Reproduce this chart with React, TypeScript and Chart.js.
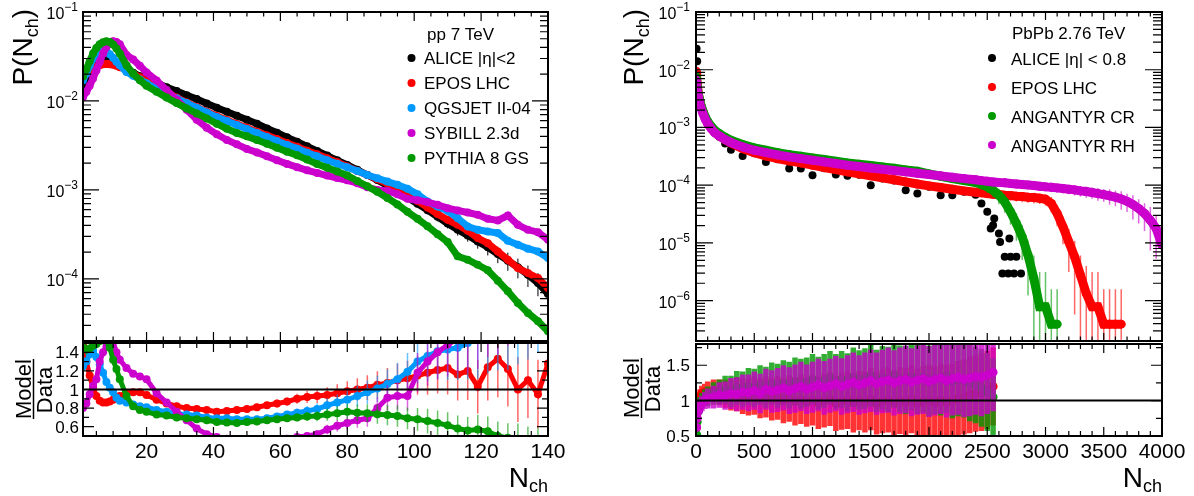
import React, { useEffect, useRef } from "react";
import { Chart, registerables } from "chart.js";

Chart.register(...registerables);

const FONT = '"Liberation Sans", Arial, Helvetica, sans-serif';
const W = 1194;
const H = 496;

const C_BLACK = "#000000";
const C_RED = "#ff0000";
const C_BLUE = "#0099ff";
const C_MAGENTA = "#cc00cc";
const C_GREEN = "#009900";

/* ================= pp 7 TeV (left) ================= */
const ppN = [1,2,3,4,5,6,7,8,9,10,11,12,14,16,18,20,23,26,29,32,35,38,41,44,47,50,53,56,59,62,65,68,71,74,77,80,83,86,89,92,95,98,101,104,107,110,113,116,119,122,125,128,131,134,137,140];

const ppAlice = [1.36e-2,1.61e-2,1.95e-2,2.36e-2,2.75e-2,3.00e-2,3.10e-2,3.08e-2,2.97e-2,2.82e-2,2.68e-2,2.52e-2,
  2.28e-2,2.07e-2,1.90e-2,1.76e-2,
  1.59e-2,1.43e-2,1.29e-2,1.16e-2,1.05e-2,9.38e-3,8.39e-3,7.56e-3,6.82e-3,6.15e-3,5.54e-3,4.91e-3,4.40e-3,3.90e-3,3.48e-3,3.09e-3,2.74e-3,2.43e-3,2.15e-3,1.91e-3,1.68e-3,1.47e-3,1.29e-3,1.12e-3,9.58e-4,8.20e-4,6.97e-4,5.92e-4,4.98e-4,4.19e-4,3.56e-4,3.08e-4,2.63e-4,2.26e-4,1.90e-4,1.60e-4,1.35e-4,1.11e-4,8.98e-5,6.76e-5];

const ppAliceErr = [0.01,0.01,0.01,0.01,0.01,0.01,0.01,0.01,0.01,0.01,0.01,0.01,0.01,0.01,0.01,0.01,
  0.01,0.01,0.01,0.01,0.01,0.01,0.01,0.01,0.01,0.01,0.01,0.01,0.01,0.01,0.01,0.01,0.01,0.01,0.01,0.01,
  0.03,0.04,0.05,0.06,0.07,0.08,0.09,0.10,0.11,0.12,0.14,0.15,0.17,0.19,0.21,0.23,0.25,0.27,0.29,0.31];

const ppEpos = [2.02e-2,2.12e-2,2.24e-2,2.36e-2,2.44e-2,2.52e-2,2.59e-2,2.61e-2,2.59e-2,2.55e-2,2.48e-2,2.40e-2,
  2.22e-2,2.02e-2,1.85e-2,1.67e-2,
  1.44e-2,1.25e-2,1.09e-2,9.62e-3,8.53e-3,7.56e-3,6.76e-3,6.10e-3,5.50e-3,5.00e-3,4.51e-3,4.10e-3,3.73e-3,3.37e-3,3.06e-3,2.76e-3,2.51e-3,2.27e-3,2.04e-3,1.83e-3,1.63e-3,1.47e-3,1.32e-3,1.18e-3,1.04e-3,8.94e-4,7.52e-4,6.34e-4,5.34e-4,4.61e-4,4.05e-4,3.47e-4,2.87e-4,2.52e-4,2.03e-4,1.64e-4,1.32e-4,1.16e-4,1.02e-4,7.89e-5];

const ppQgsjet = [1.71e-2,2.03e-2,2.48e-2,3.00e-2,3.41e-2,3.65e-2,3.75e-2,3.62e-2,3.35e-2,3.05e-2,2.75e-2,2.52e-2,
  2.12e-2,1.92e-2,1.74e-2,1.58e-2,
  1.38e-2,1.21e-2,1.07e-2,9.46e-3,8.39e-3,7.43e-3,6.59e-3,5.94e-3,5.36e-3,4.83e-3,4.36e-3,3.93e-3,3.54e-3,3.20e-3,2.91e-3,2.62e-3,2.39e-3,2.15e-3,1.97e-3,1.80e-3,1.63e-3,1.47e-3,1.35e-3,1.24e-3,1.14e-3,1.03e-3,8.94e-4,7.40e-4,6.50e-4,5.81e-4,4.81e-4,3.88e-4,3.56e-4,3.41e-4,3.27e-4,2.68e-4,2.42e-4,2.18e-4,2.03e-4,1.71e-4];

const ppSibyll = [1.10e-2,1.27e-2,1.48e-2,1.79e-2,2.20e-2,2.75e-2,3.41e-2,4.05e-2,4.53e-2,4.69e-2,4.61e-2,4.34e-2,
  3.29e-2,2.92e-2,2.48e-2,2.09e-2,
  1.70e-2,1.33e-2,1.03e-2,7.96e-3,6.15e-3,5.00e-3,4.21e-3,3.64e-3,3.25e-3,2.88e-3,2.64e-3,2.39e-3,2.15e-3,1.96e-3,1.80e-3,1.66e-3,1.55e-3,1.45e-3,1.36e-3,1.28e-3,1.19e-3,1.07e-3,1.00e-3,9.74e-4,8.94e-4,7.93e-4,7.66e-4,7.27e-4,6.79e-4,6.23e-4,5.86e-4,5.57e-4,5.24e-4,4.73e-4,4.53e-4,5.15e-4,4.05e-4,3.56e-4,3.35e-4,2.75e-4];

const ppPythia = [1.88e-2,2.28e-2,2.80e-2,3.41e-2,3.95e-2,4.34e-2,4.57e-2,4.69e-2,4.61e-2,4.30e-2,3.88e-2,3.41e-2,
  2.52e-2,2.03e-2,1.71e-2,1.48e-2,
  1.27e-2,1.09e-2,9.46e-3,8.24e-3,7.24e-3,6.36e-3,5.54e-3,4.87e-3,4.36e-3,4.00e-3,3.64e-3,3.31e-3,2.98e-3,2.69e-3,2.45e-3,2.19e-3,1.96e-3,1.77e-3,1.61e-3,1.45e-3,1.26e-3,1.10e-3,9.50e-4,8.13e-4,6.85e-4,5.67e-4,4.73e-4,3.91e-4,3.18e-4,2.59e-4,1.79e-4,1.64e-4,1.44e-4,1.25e-4,9.54e-5,7.24e-5,5.36e-5,4.14e-5,3.34e-5,2.58e-5];

// ratio Model/Data (left lower panel)
const ppRatioEpos = [1.49,1.30,1.15,1.02,0.93,0.88,0.86,0.86,0.87,0.89,0.91,0.93,0.96,0.97,0.97,0.94,
  0.89,0.85,0.82,0.80,0.79,0.78,0.76,0.77,0.78,0.79,0.81,0.83,0.85,0.87,0.90,0.92,0.93,0.94,0.96,0.98,
  1.00,1.02,1.05,1.07,1.10,1.12,1.15,1.18,1.21,1.23,1.16,1.20,1.03,1.24,1.33,1.22,1.00,1.10,0.95,1.28];
const ppRatioQgsjet = [1.25,1.30,1.38,1.42,1.35,1.27,1.18,1.08,1.02,0.97,0.91,0.88,0.86,0.84,0.82,0.81,
  0.78,0.76,0.74,0.73,0.72,0.70,0.69,0.69,0.68,0.68,0.68,0.69,0.71,0.73,0.75,0.77,0.79,0.83,0.86,0.89,
  0.93,0.97,1.01,1.06,1.11,1.19,1.30,1.36,1.41,1.43,1.45,1.50,1.55,1.65,1.75,1.80,1.95,2.10,2.30,2.45];
const ppRatioSibyll = [0.80,0.85,0.95,1.04,1.11,1.30,1.40,1.46,1.49,1.51,1.40,1.32,1.23,1.17,1.14,1.11,
  0.96,0.86,0.76,0.67,0.58,0.52,0.49,0.47,0.45,0.44,0.44,0.45,0.46,0.47,0.49,0.50,0.52,0.57,0.61,0.64,
  0.67,0.69,0.80,0.91,0.93,0.93,1.18,1.30,1.40,1.48,1.55,1.60,1.70,1.90,2.00,2.20,2.40,2.70,3.00,3.50];
const ppRatioPythia = [1.45,1.43,1.44,1.47,1.49,1.52,1.53,1.53,1.45,1.32,1.22,1.11,0.93,0.82,0.78,0.76,
  0.73,0.72,0.70,0.69,0.68,0.67,0.65,0.645,0.64,0.65,0.655,0.67,0.68,0.69,0.70,0.71,0.715,0.73,0.745,0.76,
  0.75,0.745,0.735,0.725,0.715,0.69,0.68,0.66,0.64,0.615,0.58,0.56,0.57,0.55,0.50,0.48,0.47,0.44,0.42,0.40];
const ppRatioErr = [0.04,0.04,0.03,0.02,0.02,0.02,0.02,0.02,0.02,0.02,0.02,0.02,0.02,0.02,0.02,0.02,
  0.02,0.02,0.02,0.02,0.02,0.02,0.02,0.02,0.02,
  0.03,0.03,0.04,0.05,0.05,0.06,0.07,0.08,0.09,0.10,0.11,0.12,0.13,0.14,0.15,0.16,0.17,0.18,0.20,0.21,0.23,0.24,0.26,0.28,0.29,0.31,0.33,0.35,0.37,0.39,0.41];

const ppXTicks = [20, 40, 60, 80, 100, 120, 140];
const ppYDecades = [-1, -2, -3, -4];
const ppRatioTicks = [0.6, 0.8, 1, 1.2, 1.4];
const ppLegend = ["ALICE |\u03b7|<2", "EPOS LHC", "QGSJET II-04", "SYBILL 2.3d", "PYTHIA 8 GS"];

/* ================= PbPb 2.76 TeV (right) ================= */
const pbN = [2,5,10,20,30,40,60,80,100,130,160,200,250,300,
  400,500,600,700,800,900,1000,1100,1200,1300,1400,1500,1600,1700,1800,1900,2000,2100,2200,2300,2400,
  2450,2500,2550,2600,2650,2700,2750,2800,2850,2900,2950,3000,3050,3100,3150,3200,3250,3300,3350,3400,3450,3500,3550,3600,3650,3700,3750,3800,3850,3900,3950,4000];

const pbAlice = [null,2.32e-2,1.40e-2,3.70e-3,2.95e-3,2.40e-3,1.80e-3,1.42e-3,1.17e-3,9.50e-4,8.10e-4,6.90e-4,5.26e-4,4.10e-4,
  3.21e-4,3.56e-4,2.53e-4,2.80e-4,1.94e-4,1.94e-4,1.49e-4,1.96e-4,1.53e-4,1.45e-4,1.52e-4,9.98e-5,1.30e-4,1.20e-4,8.18e-5,7.16e-5,9.44e-5,6.70e-5,6.70e-5,7.73e-5,6.80e-5,
  4.81e-5,3.45e-5,2.03e-5,1.46e-5,5.74e-6,5.74e-6,5.74e-6,null,null,null,null,null,null,null,null,null,null,null,null,null,null,null,null,null,null,null,null,null,null,null,null,null];
const pbAliceExtraN = [2530, 2560, 2610, 2690, 2630, 2680, 2730, 2790];
const pbAliceExtra = [1.78e-5, 2.64e-5, 1.04e-5, 1.19e-5, 2.95e-6, 2.95e-6, 2.95e-6, 2.95e-6];

const pbEpos = [9.40e-3,7.49e-3,5.74e-3,3.86e-3,3.08e-3,2.49e-3,1.86e-3,1.46e-3,1.21e-3,9.81e-4,8.37e-4,7.14e-4,6.16e-4,5.40e-4,
  4.31e-4,3.67e-4,3.21e-4,2.89e-4,2.63e-4,2.43e-4,2.22e-4,2.02e-4,1.87e-4,1.70e-4,1.57e-4,1.45e-4,1.34e-4,1.24e-4,1.14e-4,1.05e-4,9.73e-5,9.10e-5,8.52e-5,7.97e-5,7.56e-5,
  7.36e-5,7.16e-5,6.98e-5,6.88e-5,6.70e-5,6.62e-5,6.44e-5,6.36e-5,6.19e-5,6.11e-5,5.95e-5,5.71e-5,4.81e-5,3.23e-5,1.90e-5,1.04e-5,5.74e-6,2.76e-6,1.33e-6,7.82e-7,7.82e-7,3.92e-7,3.92e-7,3.92e-7,3.92e-7,null,null,null,null,null,null,null];
const pbCR = [7.49e-3,6.56e-3,5.03e-3,3.71e-3,3.08e-3,2.52e-3,1.91e-3,1.52e-3,1.28e-3,1.05e-3,8.94e-4,7.83e-4,6.77e-4,6.00e-4,
  5.05e-4,4.42e-4,4.03e-4,3.67e-4,3.39e-4,3.17e-4,2.97e-4,2.78e-4,2.60e-4,2.43e-4,2.31e-4,2.19e-4,2.07e-4,1.97e-4,1.84e-4,1.74e-4,1.57e-4,1.43e-4,1.30e-4,1.20e-4,1.11e-4,
  1.03e-4,9.35e-5,8.18e-5,6.70e-5,5.14e-5,3.45e-5,2.17e-5,1.27e-5,6.13e-6,2.42e-6,7.82e-7,7.82e-7,3.92e-7,3.92e-7,null,null,null,null,null,null,null,null,null,null,null,null,null,null,null,null,null,null];
const pbRH = [6.56e-3,5.74e-3,4.41e-3,3.38e-3,2.77e-3,2.27e-3,1.74e-3,1.39e-3,1.17e-3,9.56e-4,8.15e-4,7.14e-4,6.16e-4,5.47e-4,
  4.60e-4,4.03e-4,3.67e-4,3.35e-4,3.09e-4,2.89e-4,2.71e-4,2.53e-4,2.37e-4,2.22e-4,2.10e-4,1.99e-4,1.89e-4,1.79e-4,1.70e-4,1.61e-4,1.53e-4,1.45e-4,1.37e-4,1.30e-4,1.24e-4,
  1.20e-4,1.17e-4,1.14e-4,1.11e-4,1.10e-4,1.07e-4,1.05e-4,1.03e-4,1.01e-4,9.86e-5,9.60e-5,9.35e-5,9.22e-5,8.98e-5,8.74e-5,8.52e-5,8.29e-5,7.97e-5,7.76e-5,7.46e-5,7.16e-5,6.88e-5,6.53e-5,6.19e-5,5.79e-5,5.28e-5,4.62e-5,3.94e-5,3.23e-5,2.47e-5,1.78e-5,9.14e-6];

// relative errors of the model histograms (right upper panel)
const pbErrEpos = [0.05,0.05,0.05,0.05,0.05,0.05,0.05,0.05,0.05,0.05,0.05,0.05,0.05,0.05,
  0.06,0.06,0.07,0.07,0.08,0.08,0.09,0.09,0.10,0.10,0.11,0.11,0.12,0.12,0.13,0.13,0.14,0.14,0.15,0.15,0.16,
  0.16,0.17,0.17,0.18,0.18,0.19,0.19,0.20,0.20,0.21,0.21,0.22,0.3,0.4,0.5,0.7,0.9,1.2,2,3,3,3,3,3,3,0,0,0,0,0,0,0];
const pbErrCR = [0.05,0.05,0.05,0.05,0.05,0.05,0.05,0.05,0.05,0.05,0.05,0.05,0.05,0.05,
  0.06,0.06,0.07,0.07,0.08,0.08,0.09,0.09,0.10,0.10,0.11,0.11,0.12,0.12,0.13,0.13,0.14,0.14,0.15,0.15,0.16,
  0.2,0.22,0.25,0.3,0.35,0.4,0.5,0.6,0.8,1.5,3,3,3,3,0,0,0,0,0,0,0,0,0,0,0,0,0,0,0,0,0,0];
const pbErrRH = [0.03,0.03,0.03,0.03,0.03,0.03,0.03,0.03,0.03,0.03,0.03,0.03,0.03,0.03,
  0.06,0.06,0.06,0.07,0.07,0.07,0.08,0.08,0.08,0.09,0.09,0.09,0.10,0.10,0.10,0.11,0.11,0.11,0.12,0.12,0.12,
  0.13,0.13,0.13,0.14,0.14,0.14,0.15,0.15,0.15,0.16,0.16,0.16,0.17,0.17,0.18,0.18,0.2,0.2,0.22,0.22,0.25,0.25,0.3,0.3,0.35,0.35,0.45,0.45,0.5,0.7,0.7,0.7];

// ratio Model/Data (right lower panel)
const pbRatioN = [5,10,20,35,50,75,100,
  150,200,250,300,350,400,450,500,550,600,650,700,750,800,850,900,950,1000,1050,1100,1150,1200,1250,1300,1350,1400,1450,1500,
  1550,1600,1650,1700,1750,1800,1850,1900,1950,2000,2050,2100,2150,2200,2250,2300,2350,2400,2450,2500,2550];
const pbRatioEpos = [0.62,0.90,1.00,1.06,1.10,1.12,1.13,
  1.14,1.12,1.10,1.08,1.09,1.06,1.05,1.07,1.03,1.05,1.02,1.04,1.00,1.03,0.99,1.02,0.98,1.01,0.97,1.00,
  1.02,0.96,0.99,1.01,0.97,1.00,0.98,1.02,0.96,0.99,1.01,0.97,1.00,0.98,1.02,0.96,0.99,1.00,0.97,1.01,
  0.98,1.00,1.03,1.05,1.08,1.10,1.12,1.15,1.20];
const pbRatioCR = [0.52,0.70,0.85,0.95,1.00,1.04,1.06,
  1.10,1.12,1.15,1.13,1.18,1.16,1.20,1.18,1.22,1.19,1.24,1.21,1.25,1.22,1.27,1.24,1.26,1.30,1.25,1.28,
  1.32,1.27,1.30,1.26,1.33,1.29,1.31,1.35,1.28,1.32,1.30,1.36,1.31,1.29,1.34,1.30,1.33,1.28,1.32,1.30,
  1.35,1.27,1.31,1.29,1.25,1.22,1.18,1.12,1.05];
const pbRatioRH = [0.62,0.75,0.85,0.92,0.96,1.00,1.03,
  1.05,1.08,1.07,1.10,1.09,1.12,1.11,1.14,1.10,1.16,1.13,1.15,1.18,1.14,1.17,1.20,1.16,1.19,1.22,1.18,
  1.21,1.24,1.20,1.23,1.26,1.22,1.25,1.28,1.24,1.27,1.29,1.25,1.28,1.30,1.26,1.29,1.31,1.27,1.30,1.32,
  1.28,1.31,1.33,1.30,1.32,1.34,1.33,1.36,1.40];
const pbRatioErr = [0.05,0.06,0.08,0.10,0.11,0.12,0.14,
  0.16,0.18,0.20,0.22,0.24,0.25,0.26,0.27,0.28,0.29,0.30,0.31,0.32,0.33,0.34,0.35,0.35,0.36,0.37,0.38,
  0.38,0.39,0.40,0.41,0.42,0.42,0.43,0.44,0.44,0.45,0.46,0.46,0.47,0.48,0.48,0.49,0.50,0.50,0.51,0.51,
  0.52,0.52,0.53,0.53,0.54,0.54,0.55,0.55,0.55];

const pbXTicks = [0, 500, 1000, 1500, 2000, 2500, 3000, 3500, 4000];
const pbYDecades = [-1, -2, -3, -4, -5, -6];
const pbRatioTicks = [0.5, 1, 1.5];
const pbLegend = ["ALICE |\u03b7| < 0.8", "EPOS LHC", "ANGANTYR CR", "ANGANTYR RH"];

/* ================= helpers ================= */
type Seg = { t: string; size: number; dy?: number };
type Rich = { x: number; y: number; rotate?: boolean; align?: "start" | "end" | "center"; segs: Seg[] };

function hexA(hex: string, a: number) {
  const n = parseInt(hex.slice(1), 16);
  return `rgba(${(n >> 16) & 255},${(n >> 8) & 255},${n & 255},${a})`;
}

function drawRich(ctx: CanvasRenderingContext2D, r: Rich) {
  ctx.save();
  ctx.translate(r.x, r.y);
  if (r.rotate) ctx.rotate(-Math.PI / 2);
  let total = 0;
  for (const s of r.segs) {
    ctx.font = `${s.size}px ${FONT}`;
    total += ctx.measureText(s.t).width;
  }
  let x = r.align === "end" ? -total : r.align === "center" ? -total / 2 : 0;
  ctx.fillStyle = "#000";
  ctx.textAlign = "left";
  ctx.textBaseline = "alphabetic";
  for (const s of r.segs) {
    ctx.font = `${s.size}px ${FONT}`;
    ctx.fillText(s.t, x, s.dy || 0);
    x += ctx.measureText(s.t).width;
  }
  ctx.restore();
}

function stepTicks(from: number, to: number, step: number, skip: number[] = []) {
  const out: number[] = [];
  for (let v = from; v <= to + 1e-9; v += step) {
    const r = Math.round(v * 1000) / 1000;
    if (!skip.some((s) => Math.abs(s - r) < 1e-9)) out.push(r);
  }
  return out;
}

function logMinor(min: number, max: number) {
  const out: number[] = [];
  for (let d = Math.floor(Math.log10(min)); d <= Math.ceil(Math.log10(max)); d++) {
    for (let k = 2; k <= 9; k++) {
      const v = k * Math.pow(10, d);
      if (v >= min && v <= max) out.push(v);
    }
  }
  return out;
}

function decadeLabels(decs: number[]) {
  return decs.map((d) => ({
    v: Math.pow(10, d),
    segs: [
      { t: "10", size: 16 },
      { t: "\u2212" + String(-d), size: 12, dy: -8 },
    ],
  }));
}

function plainLabels(vals: number[], size: number) {
  return vals.map((v) => ({ v, segs: [{ t: String(v), size }] }));
}

function series(
  label: string,
  xs: number[],
  ys: (number | null)[],
  color: string,
  o: { line: number; r: number; order: number; lo?: (number | null)[]; hi?: (number | null)[]; errColor?: string; errWidth?: number }
) {
  return {
    label,
    data: xs.map((x, i) => ({ x, y: ys[i] })),
    showLine: o.line > 0,
    borderColor: color,
    borderWidth: o.line,
    backgroundColor: color,
    pointBackgroundColor: color,
    pointBorderColor: color,
    pointRadius: o.r,
    pointHoverRadius: o.r,
    pointBorderWidth: 0,
    order: o.order,
    clip: 0,
    spanGaps: false,
    errLo: o.lo,
    errHi: o.hi,
    errColor: o.errColor,
    errWidth: o.errWidth || 1,
  };
}

const relLo = (ys: (number | null)[], e: number[]) => ys.map((v, i) => (v == null ? null : v * (1 - e[i])));
const relHi = (ys: (number | null)[], e: number[]) => ys.map((v, i) => (v == null ? null : v * (1 + e[i])));
const absLo = (ys: number[], e: number[]) => ys.map((v, i) => v - e[i]);
const absHi = (ys: number[], e: number[]) => ys.map((v, i) => v + e[i]);

/* ================= plugin: ROOT-like frame, ticks, labels, error bars ================= */
const rootPlugin: any = {
  id: "rootDeco",
  beforeDatasetDraw(chart: any, args: any) {
    const d: any = chart.data.datasets[args.index];
    if (!d.errLo || !d.errHi) return;
    const { ctx, chartArea: a } = chart;
    const xs = chart.scales.x;
    const ys = chart.scales.y;
    const isLog = ys.type === "logarithmic";
    ctx.save();
    ctx.beginPath();
    ctx.rect(a.left, a.top, a.right - a.left, a.bottom - a.top);
    ctx.clip();
    ctx.strokeStyle = d.errColor;
    ctx.lineWidth = d.errWidth;
    ctx.beginPath();
    d.data.forEach((p: any, i: number) => {
      const lo = d.errLo[i];
      const hi = d.errHi[i];
      if (p.y == null || lo == null || hi == null || hi === lo) return;
      const px = xs.getPixelForValue(p.x);
      const y1 = ys.getPixelForValue(hi);
      const y0 = isLog && lo <= 0 ? a.bottom + 10 : ys.getPixelForValue(lo);
      ctx.moveTo(px, y0);
      ctx.lineTo(px, y1);
    });
    ctx.stroke();
    ctx.restore();
  },
  afterDatasetsDraw(chart: any) {
    const deco = chart.options.plugins.rootDeco;
    if (deco.refLine == null) return;
    const { ctx, chartArea: a } = chart;
    const py = chart.scales.y.getPixelForValue(deco.refLine);
    ctx.save();
    ctx.strokeStyle = "#000";
    ctx.lineWidth = 2;
    ctx.beginPath();
    ctx.moveTo(a.left, py);
    ctx.lineTo(a.right, py);
    ctx.stroke();
    ctx.restore();
  },
  afterDraw(chart: any) {
    const deco = chart.options.plugins.rootDeco;
    const { ctx, chartArea: a } = chart;
    const xs = chart.scales.x;
    const ys = chart.scales.y;
    ctx.save();
    ctx.strokeStyle = "#000";
    ctx.lineWidth = 1.2;
    ctx.beginPath();
    const xt = (vals: number[], len: number) => {
      for (const v of vals) {
        const px = xs.getPixelForValue(v);
        if (px < a.left - 0.5 || px > a.right + 0.5) continue;
        ctx.moveTo(px, a.bottom);
        ctx.lineTo(px, a.bottom - len);
        ctx.moveTo(px, a.top);
        ctx.lineTo(px, a.top + len);
      }
    };
    const yt = (vals: number[], len: number) => {
      for (const v of vals) {
        const py = ys.getPixelForValue(v);
        if (py < a.top - 0.5 || py > a.bottom + 0.5) continue;
        ctx.moveTo(a.left, py);
        ctx.lineTo(a.left + len, py);
        ctx.moveTo(a.right, py);
        ctx.lineTo(a.right - len, py);
      }
    };
    xt(deco.xMajor, deco.xMajorLen);
    xt(deco.xMinor, deco.xMinorLen);
    yt(deco.yMajor, deco.yMajorLen);
    yt(deco.yMinor, deco.yMinorLen);
    ctx.stroke();

    ctx.lineWidth = 2;
    ctx.strokeRect(a.left, a.top, a.right - a.left, a.bottom - a.top);

    if (deco.xLabels) {
      for (const l of deco.xLabels) {
        drawRich(ctx, { x: xs.getPixelForValue(l.v), y: deco.xLabelY, align: "center", segs: l.segs });
      }
    }
    if (deco.yLabels) {
      for (const l of deco.yLabels) {
        drawRich(ctx, { x: deco.yLabelX, y: ys.getPixelForValue(l.v) + deco.yLabelDy, align: "end", segs: l.segs });
      }
    }
    for (const t of deco.texts || []) drawRich(ctx, t);
    for (const b of deco.bars || []) {
      ctx.lineWidth = 1.5;
      ctx.beginPath();
      ctx.moveTo(b[0], b[1]);
      ctx.lineTo(b[2], b[3]);
      ctx.stroke();
    }
    if (deco.legend) {
      const L = deco.legend;
      L.items.forEach((it: any) => {
        ctx.fillStyle = it.color;
        ctx.beginPath();
        ctx.arc(L.markerX, it.y + L.markerDy, 4, 0, Math.PI * 2);
        ctx.fill();
        drawRich(ctx, { x: L.textX, y: it.y, align: "start", segs: [{ t: it.text, size: L.size }] });
      });
    }
    ctx.restore();
  },
};

function makeConfig(p: {
  area: [number, number, number, number];
  x: [number, number];
  y: [number, number];
  logY: boolean;
  datasets: any[];
  deco: any;
}) {
  const [x0, y0, x1, y1] = p.area;
  return {
    type: "scatter",
    data: { datasets: p.datasets },
    options: {
      responsive: false,
      maintainAspectRatio: false,
      animation: false,
      devicePixelRatio: 1,
      events: [],
      layout: { padding: { left: x0, top: y0, right: W - x1, bottom: H - y1 } },
      scales: {
        x: { type: "linear", min: p.x[0], max: p.x[1], display: false },
        y: { type: p.logY ? "logarithmic" : "linear", min: p.y[0], max: p.y[1], display: false },
      },
      plugins: {
        legend: { display: false },
        tooltip: { enabled: false },
        rootDeco: p.deco,
      },
    },
    plugins: [rootPlugin],
  };
}

/* ================= panel configs ================= */
const LEFT = { x0: 83, x1: 548 };
const RIGHT = { x0: 696, x1: 1162 };

function yTitle(x: number): Rich {
  return { x, y: 9, rotate: true, align: "end", segs: [{ t: "P(N", size: 28 }, { t: "ch", size: 18, dy: 6 }, { t: ")", size: 28 }] };
}
function xTitle(x: number): Rich {
  return { x, y: 487, align: "end", segs: [{ t: "N", size: 28 }, { t: "ch", size: 18, dy: 5 }] };
}

function leftMain() {
  const lines = { line: 7, r: 4 };
  const datasets = [
    series(ppLegend[0], ppN, ppAlice, C_BLACK, { ...lines, order: 5, lo: relLo(ppAlice, ppAliceErr), hi: relHi(ppAlice, ppAliceErr), errColor: "#000", errWidth: 1 }),
    series(ppLegend[1], ppN, ppEpos, C_RED, { ...lines, order: 4 }),
    series(ppLegend[2], ppN, ppQgsjet, C_BLUE, { ...lines, order: 3 }),
    series(ppLegend[3], ppN, ppSibyll, C_MAGENTA, { ...lines, order: 2 }),
    series(ppLegend[4], ppN, ppPythia, C_GREEN, { ...lines, order: 1 }),
  ];
  const colors = [C_BLACK, C_RED, C_BLUE, C_MAGENTA, C_GREEN];
  return makeConfig({
    area: [LEFT.x0, 12, LEFT.x1, 341],
    x: [1, 140],
    y: [2e-5, 0.1],
    logY: true,
    datasets,
    deco: {
      xMajor: ppXTicks, xMinor: stepTicks(5, 140, 5, ppXTicks), xMajorLen: 9, xMinorLen: 4.5,
      yMajor: ppYDecades.map((d) => Math.pow(10, d)), yMinor: logMinor(2e-5, 0.1), yMajorLen: 16, yMinorLen: 8,
      yLabels: decadeLabels(ppYDecades), yLabelX: 78, yLabelDy: 7,
      texts: [yTitle(32), { x: 427, y: 40, align: "start", segs: [{ t: "pp 7 TeV", size: 17 }] }],
      legend: {
        markerX: 411.5, markerDy: -6, textX: 424, size: 17,
        items: ppLegend.map((t, i) => ({ text: t, color: colors[i], y: 64 + 25 * i })),
      },
    },
  });
}

function leftRatio() {
  const o = { line: 5, r: 4 };
  const mk = (label: string, ys: number[], color: string, order: number) =>
    series(label, ppN, ys, color, { ...o, order, lo: relLo(ys, ppRatioErr), hi: relHi(ys, ppRatioErr), errColor: hexA(color, 0.6), errWidth: 1.5 });
  const datasets = [
    mk(ppLegend[1], ppRatioEpos, C_RED, 4),
    mk(ppLegend[2], ppRatioQgsjet, C_BLUE, 3),
    mk(ppLegend[3], ppRatioSibyll, C_MAGENTA, 2),
    mk(ppLegend[4], ppRatioPythia, C_GREEN, 1),
  ];
  return makeConfig({
    area: [LEFT.x0, 343, LEFT.x1, 436],
    x: [1, 140],
    y: [0.5, 1.5],
    logY: false,
    datasets,
    deco: {
      xMajor: ppXTicks, xMinor: stepTicks(5, 140, 5, ppXTicks), xMajorLen: 9, xMinorLen: 5,
      yMajor: ppRatioTicks, yMinor: [0.5, 0.7, 0.9, 1.1, 1.3, 1.5], yMajorLen: 11, yMinorLen: 6,
      xLabels: plainLabels(ppXTicks, 21), xLabelY: 458,
      yLabels: plainLabels(ppRatioTicks, 17), yLabelX: 79, yLabelDy: 6,
      refLine: 1,
      texts: [
        { x: 31, y: 389, rotate: true, align: "center", segs: [{ t: "Model", size: 22 }] },
        { x: 52, y: 390, rotate: true, align: "center", segs: [{ t: "Data", size: 22 }] },
        xTitle(LEFT.x1),
      ],
      bars: [[33.5, 359, 33.5, 419]],
    },
  });
}

function rightMain() {
  const datasets = [
    series(pbLegend[0], pbN, pbAlice, C_BLACK, { line: 0, r: 4, order: 6 }),
    series(pbLegend[0] + " tail", pbAliceExtraN, pbAliceExtra, C_BLACK, { line: 0, r: 4, order: 5 }),
    series(pbLegend[1], pbN, pbEpos, C_RED, { line: 9, r: 4.5, order: 3, lo: relLo(pbEpos, pbErrEpos), hi: relHi(pbEpos, pbErrEpos), errColor: hexA(C_RED, 0.6), errWidth: 1.5 }),
    series(pbLegend[2], pbN, pbCR, C_GREEN, { line: 9, r: 4.5, order: 2, lo: relLo(pbCR, pbErrCR), hi: relHi(pbCR, pbErrCR), errColor: hexA(C_GREEN, 0.6), errWidth: 1.5 }),
    series(pbLegend[3], pbN, pbRH, C_MAGENTA, { line: 9, r: 4.5, order: 1, lo: relLo(pbRH, pbErrRH), hi: relHi(pbRH, pbErrRH), errColor: hexA(C_MAGENTA, 0.6), errWidth: 1.5 }),
  ];
  const colors = [C_BLACK, C_RED, C_GREEN, C_MAGENTA];
  return makeConfig({
    area: [RIGHT.x0, 12, RIGHT.x1, 341],
    x: [0, 4000],
    y: [2e-7, 0.1],
    logY: true,
    datasets,
    deco: {
      xMajor: pbXTicks, xMinor: stepTicks(100, 4000, 100, pbXTicks), xMajorLen: 8, xMinorLen: 4.5,
      yMajor: pbYDecades.map((d) => Math.pow(10, d)), yMinor: logMinor(2e-7, 0.1), yMajorLen: 17, yMinorLen: 9,
      yLabels: decadeLabels(pbYDecades), yLabelX: 690, yLabelDy: 7,
      texts: [yTitle(643), { x: 1012, y: 39, align: "start", segs: [{ t: "PbPb 2.76 TeV", size: 17 }] }],
      legend: {
        markerX: 992, markerDy: -7, textX: 1011, size: 17,
        items: pbLegend.map((t, i) => ({ text: t, color: colors[i], y: 65 + 29 * i })),
      },
    },
  });
}

function rightRatio() {
  const mk = (label: string, ys: number[], color: string, order: number) =>
    series(label, pbRatioN, ys, color, { line: 0, r: 4.5, order, lo: absLo(ys, pbRatioErr), hi: absHi(ys, pbRatioErr), errColor: hexA(color, 0.8), errWidth: 5.5 });
  const datasets = [
    mk(pbLegend[1], pbRatioEpos, C_RED, 3),
    mk(pbLegend[2], pbRatioCR, C_GREEN, 2),
    mk(pbLegend[3], pbRatioRH, C_MAGENTA, 1),
  ];
  return makeConfig({
    area: [RIGHT.x0, 344, RIGHT.x1, 436],
    x: [0, 4000],
    y: [0.5, 1.8],
    logY: false,
    datasets,
    deco: {
      xMajor: pbXTicks, xMinor: stepTicks(100, 4000, 100, pbXTicks), xMajorLen: 9, xMinorLen: 5,
      yMajor: pbRatioTicks, yMinor: [0.75, 1.25, 1.75], yMajorLen: 11, yMinorLen: 6,
      xLabels: plainLabels(pbXTicks, 21), xLabelY: 458,
      yLabels: plainLabels(pbRatioTicks, 17), yLabelX: 690, yLabelDy: 6,
      refLine: 1,
      texts: [
        { x: 639, y: 388, rotate: true, align: "center", segs: [{ t: "Model", size: 22 }] },
        { x: 660, y: 389, rotate: true, align: "center", segs: [{ t: "Data", size: 22 }] },
        xTitle(RIGHT.x1),
      ],
      bars: [[641.5, 358, 641.5, 418]],
    },
  });
}

function ChartCanvas({ make }: { make: () => any }) {
  const ref = useRef<HTMLCanvasElement>(null);
  useEffect(() => {
    if (!ref.current) return;
    const chart = new Chart(ref.current, make());
    return () => chart.destroy();
  }, [make]);
  return (
    <canvas
      ref={ref}
      width={W}
      height={H}
      style={{ position: "absolute", left: 0, top: 0, width: W, height: H }}
    />
  );
}

export default function App() {
  return (
    <div style={{ position: "absolute", left: 0, top: 0, width: W, height: H, background: "#fff", overflow: "hidden" }}>
      <ChartCanvas make={leftMain} />
      <ChartCanvas make={leftRatio} />
      <ChartCanvas make={rightMain} />
      <ChartCanvas make={rightRatio} />
    </div>
  );
}
